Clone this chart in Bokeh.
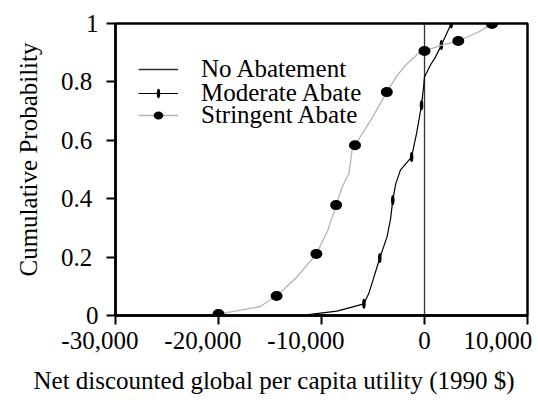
import numpy as np
from bokeh.plotting import figure
from bokeh.models import (Range1d, FixedTicker, Legend, LegendItem, Title)
from bokeh.embed import file_html
from bokeh.resources import INLINE

# --- data ---
no_abate_x = [0, 0]
no_abate_y = [0.0, 1.0]

moderate_x = [-11280, -8500, -5880, -5400, -5100, -4340, -3630, -3300, -3080, -2800,
              -2340, -1250, -770, -290, -100, 0, 580, 1060, 1640, 2600]
moderate_y = [0.003, 0.015, 0.04, 0.076, 0.11, 0.197, 0.27, 0.33, 0.395, 0.45,
              0.498, 0.543, 0.624, 0.72, 0.78, 0.817, 0.858, 0.885, 0.926, 1.0]
moderate_mark_x = [-5880, -4340, -3080, -1250, -290, 1640, 2600]
moderate_mark_y = [0.04, 0.197, 0.395, 0.543, 0.72, 0.926, 1.0]

stringent_x = [-20000, -16000, -14360, -12430, -10500, -9400, -8580, -8000, -7325, -7036,
               -6750, -5200, -3660, -2700, -1830, -580, 0, 1600, 3280, 5200, 6550]
stringent_y = [0.005, 0.03, 0.067, 0.13, 0.211, 0.29, 0.378, 0.44, 0.487, 0.566,
               0.583, 0.67, 0.765, 0.82, 0.857, 0.898, 0.906, 0.925, 0.94, 0.97, 0.998]
stringent_mark_x = [-20000, -14360, -10500, -8580, -6750, -3660, 0, 3280, 6550]
stringent_mark_y = [0.005, 0.067, 0.211, 0.378, 0.583, 0.765, 0.906, 0.94, 0.998]

NB = "\u00a0"
x_ticks = [-30000, -20000, -10000, 0, 10000]
x_tick_labels = {-30000: "-30,000" + NB * 5, -20000: "-20,000" + NB * 5,
                 -10000: "-10,000" + NB * 5, 0: "0", 10000: "10,000" + NB}
y_ticks = [0, 0.2, 0.4, 0.6, 0.8, 1]
y_tick_labels = {0: "0", 0.2: "0.2" + NB, 0.4: "0.4" + NB, 0.6: "0.6" + NB,
                 0.8: "0.8" + NB, 1: "1"}
x_title = "Net discounted global per capita utility (1990 $)"
y_title = "Cumulative Probability"
series_labels = ["No Abatement", "Moderate Abate", "Stringent Abate"]

FONT = "Nimbus Roman"

p = figure(width=538, height=402, output_backend="svg", toolbar_location=None,
           x_range=Range1d(-30000, 10000), y_range=Range1d(0, 1),
           min_border_left=112, min_border_right=11, min_border_top=23, min_border_bottom=86)
p.grid.visible = False
p.outline_line_color = "black"
p.outline_line_width = 2.5
p.background_fill_color = "white"
p.border_fill_color = "white"

for ax in (p.xaxis[0], p.yaxis[0]):
    ax.axis_line_width = 2.5
    ax.axis_line_color = "black"
    ax.major_tick_line_width = 2
    ax.major_tick_line_color = "black"
    ax.major_tick_out = 9
    ax.major_tick_in = 0
    ax.minor_tick_line_color = None
    ax.major_label_text_font = FONT
    ax.major_label_text_font_size = "25px"
    ax.major_label_text_color = "black"

p.xaxis.ticker = FixedTicker(ticks=x_ticks)
p.xaxis.major_label_overrides = x_tick_labels
p.xaxis.major_label_standoff = 2

p.yaxis.ticker = FixedTicker(ticks=y_ticks)
p.yaxis.major_label_overrides = y_tick_labels
p.yaxis.major_label_standoff = 8

p.add_layout(Title(text=x_title, align="left", offset=-82, vertical_align="bottom",
                   standoff=17, text_font=FONT, text_font_size="25px",
                   text_font_style="normal", text_color="black"), "below")
p.add_layout(Title(text=y_title, align="left", offset=39, vertical_align="top",
                   standoff=28, text_font=FONT, text_font_size="25px",
                   text_font_style="normal", text_color="black"), "left")

r_no = p.line(no_abate_x, no_abate_y, line_color="#333333", line_width=1.3)
r_mod = p.line(moderate_x, moderate_y, line_color="black", line_width=1.2)
r_mod_m = p.ellipse(moderate_mark_x, moderate_mark_y, width=3.5, height=10,
                    width_units="screen", height_units="screen",
                    fill_color="black", line_color=None)
r_str = p.line(stringent_x, stringent_y, line_color="#b4b4b4", line_width=1.3)
r_str_m = p.ellipse(stringent_mark_x, stringent_mark_y, width=12, height=10,
                    width_units="screen", height_units="screen",
                    fill_color="black", line_color=None)

legend_renderers = [[r_no], [r_mod, r_mod_m], [r_str, r_str_m]]
legend_y = [232, 208, 186]
for lab, rends, ly in zip(series_labels, legend_renderers, legend_y):
    lg = Legend(items=[LegendItem(label=lab, renderers=rends)], location=(23, ly))
    lg.background_fill_alpha = 0
    lg.border_line_color = None
    lg.label_text_font = FONT
    lg.label_text_font_size = "25px"
    lg.label_text_color = "black"
    lg.glyph_width = 40
    lg.glyph_height = 12
    lg.label_height = 12
    lg.label_standoff = 23
    lg.spacing = 0
    lg.padding = 0
    lg.margin = 0
    p.add_layout(lg)

open("out.html", "w").write(file_html(p, INLINE))
